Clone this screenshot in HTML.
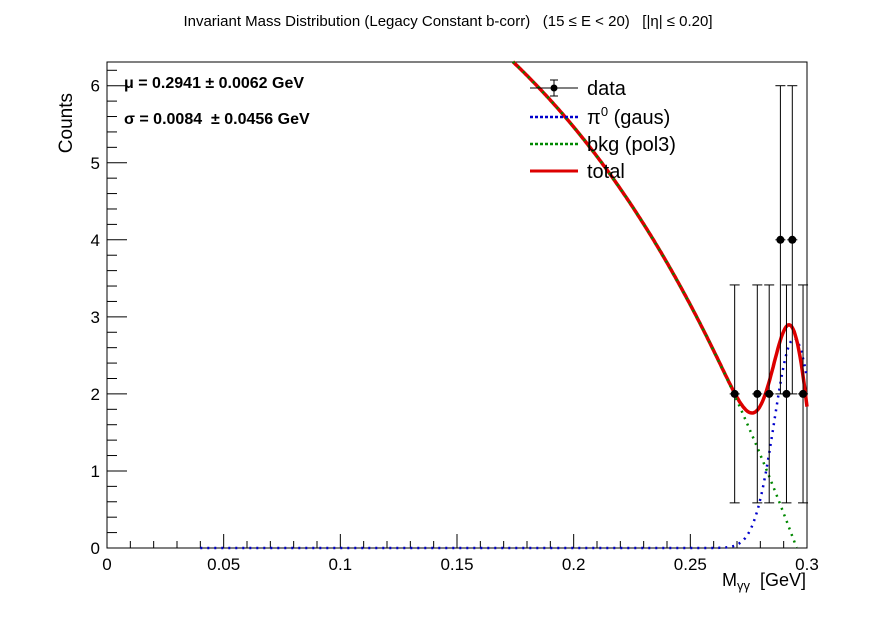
<!DOCTYPE html>
<html><head><meta charset="utf-8"><style>
body{margin:0;background:#fff;font-family:"Liberation Sans",sans-serif}
</style></head><body>
<svg id="c" width="896" height="622" xmlns="http://www.w3.org/2000/svg" style="font-family:'Liberation Sans',sans-serif">
<text x="448" y="26" font-size="15" text-anchor="middle" xml:space="preserve">Invariant Mass Distribution (Legacy Constant b-corr)   (15 ≤ E &lt; 20)   [|η| ≤ 0.20]</text>
<rect x="107" y="62" width="700" height="486" fill="none" stroke="#000"/>
<g id="ticks"></g>
<g id="curves"></g>
<g id="pts"></g>
<text x="72" y="93" font-size="19" transform="rotate(-90 72 93)" text-anchor="end">Counts</text>
<text x="806" y="586" font-size="18" text-anchor="end" xml:space="preserve">M<tspan font-size="13" dy="4">γγ</tspan><tspan dy="-4">  [GeV]</tspan></text>
<text x="124" y="88" font-size="16" font-weight="bold">μ = 0.2941 ± 0.0062 GeV</text>
<text x="124" y="124" font-size="16" font-weight="bold" xml:space="preserve">σ = 0.0084  ± 0.0456 GeV</text>
<g>
<line x1="530" y1="88" x2="578" y2="88" stroke="#000"/><line x1="554" y1="80" x2="554" y2="96" stroke="#000"/><line x1="550" y1="80" x2="558" y2="80" stroke="#000"/><line x1="550" y1="96" x2="558" y2="96" stroke="#000"/><circle cx="554" cy="88" r="3.5"/>
<text x="587" y="95" font-size="20">data</text>
<line x1="530" y1="117" x2="578" y2="117" stroke="#00c" stroke-width="2.5" stroke-dasharray="3,2"/>
<text x="587" y="124" font-size="20">π<tspan font-size="13" dy="-8">0</tspan><tspan dy="8"> (gaus)</tspan></text>
<line x1="530" y1="144" x2="578" y2="144" stroke="#080" stroke-width="2.5" stroke-dasharray="3,2"/>
<text x="587" y="151" font-size="20">bkg (pol3)</text>
<line x1="530" y1="171" x2="578" y2="171" stroke="#d00" stroke-width="3"/>
<text x="587" y="178" font-size="20">total</text>
</g>
</svg>
<script>
const dataX=[0.269,0.2787,0.2838,0.2886,0.2912,0.2937,0.2983];
const dataY=[2,2,2,4,2,4,2];
const bkgX=[0.174,0.2284,0.2687,0.293];
const bkgY=[6.31,4.28,2.0,0.21];
const gausAmp=2.72, gausMean=0.2945, gausSigma=0.0085;
const xTicks=[0,0.05,0.1,0.15,0.2,0.25,0.3];
const xTickLabels=["0","0.05","0.1","0.15","0.2","0.25","0.3"];
const yTicks=[0,1,2,3,4,5,6];
const X=v=>107+v/0.3*700, Y=v=>548-v*77.05;
const NS="http://www.w3.org/2000/svg";
function mk(p,t,a){const e=document.createElementNS(NS,t);for(const k in a)e.setAttribute(k,a[k]);p.appendChild(e);return e;}
const tg=document.getElementById('ticks');
for(let i=0;i<=30;i++){const v=i*0.01,maj=i%5==0;const l=mk(tg,'line',{x1:X(v),x2:X(v),y1:548,y2:548-(maj?14:7),stroke:'#000'});
}
xTicks.forEach((v,i)=>{const t=mk(tg,'text',{x:X(v),y:570,'font-size':17,'text-anchor':'middle'});t.textContent=xTickLabels[i];
});
for(let i=0;i<=31;i++){const v=i*0.2,maj=i%5==0;const l=mk(tg,'line',{x1:107,x2:107+(maj?20:10),y1:Y(v),y2:Y(v),stroke:'#000'});
}
yTicks.forEach(v=>{const t=mk(tg,'text',{x:100,y:Y(v)+6,'font-size':17,'text-anchor':'end'});t.textContent=v;
});
function bkg(x){let s=0;for(let i=0;i<4;i++){let p=bkgY[i];for(let j=0;j<4;j++)if(j!=i)p*=(x-bkgX[j])/(bkgX[i]-bkgX[j]);s+=p;}return s;}
function gaus(x){return gausAmp*Math.exp(-((x-gausMean)**2)/(2*gausSigma**2));}
const cg=document.getElementById('curves');
function path(f,x0,x1){let d='',first=true;for(let x=x0;x<=x1+1e-9;x+=0.0005){const y=f(x);if(y>6.32||y<0){first=true;continue;}d+=(first?'M':'L')+X(x).toFixed(1)+','+Y(y).toFixed(1);first=false;}return d;}
let p=mk(cg,'path',{d:path(gaus,0.04,0.3),fill:'none',stroke:'#00c','stroke-width':2.5,'stroke-dasharray':'2,5'});

p=mk(cg,'path',{d:path(x=>bkg(x)+gaus(x),0.15,0.3),fill:'none',stroke:'#d00','stroke-width':3.5});

p=mk(cg,'path',{d:path(bkg,0.15,0.298),fill:'none',stroke:'#080','stroke-width':2.5,'stroke-dasharray':'2,5'});

const pg=document.getElementById('pts');
dataX.forEach((x,i)=>{const y=dataY[i],e=Math.sqrt(y);const g=mk(pg,'g',{});

mk(g,'line',{x1:X(x),x2:X(x),y1:Y(y-e),y2:Y(Math.min(y+e,6.3)),stroke:'#000'});
mk(g,'line',{x1:X(x)-5,x2:X(x)+5,y1:Y(y-e),y2:Y(y-e),stroke:'#000'});
if(y+e<6.3)mk(g,'line',{x1:X(x)-5,x2:X(x)+5,y1:Y(y+e),y2:Y(y+e),stroke:'#000'});
mk(g,'line',{x1:X(x)-5,x2:X(x)+5,y1:Y(y),y2:Y(y),stroke:'#000'});
mk(g,'circle',{cx:X(x),cy:Y(y),r:4});});
</script>
</body></html>
